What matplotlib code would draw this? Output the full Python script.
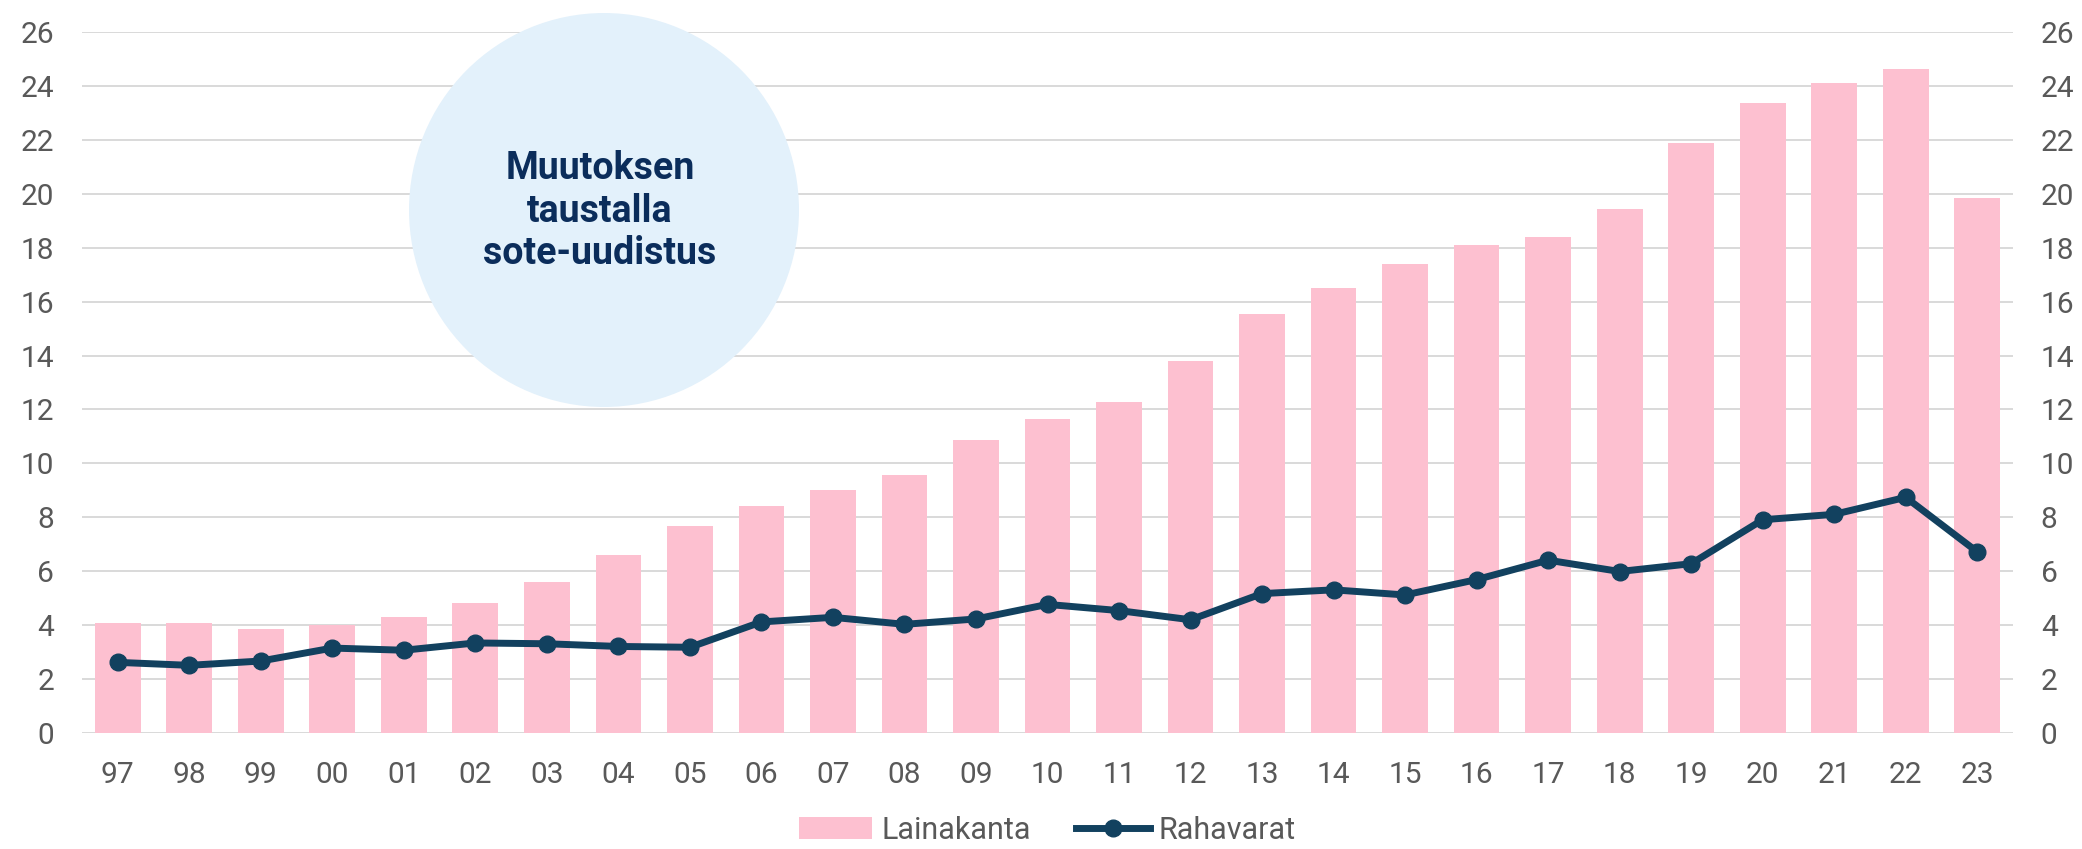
import matplotlib
matplotlib.use("Agg")
import matplotlib.pyplot as plt
from matplotlib.patches import Ellipse
import numpy as np

plt.rcParams['font.family'] = ['Roboto', 'DejaVu Sans']

years = ["97", "98", "99", "00", "01", "02", "03", "04", "05", "06", "07",
         "08", "09", "10", "11", "12", "13", "14", "15", "16", "17", "18",
         "19", "20", "21", "22", "23"]
lainakanta = [4.09, 4.08, 3.86, 4.02, 4.30, 4.83, 5.60, 6.61, 7.69, 8.41,
              9.01, 9.58, 10.88, 11.66, 12.29, 13.80, 15.54, 16.52, 17.38,
              18.09, 18.40, 19.42, 21.89, 23.35, 24.10, 24.64, 19.83]
rahavarat = [2.62, 2.51, 2.67, 3.15, 3.07, 3.34, 3.31, 3.21, 3.18, 4.12,
             4.29, 4.03, 4.23, 4.77, 4.54, 4.20, 5.17, 5.31, 5.12, 5.69,
             6.41, 5.99, 6.28, 7.91, 8.11, 8.74, 6.72]
yticks = list(range(0, 27, 2))

pink = "#FDC0D0"
navy = "#12415F"
grey_txt = "#595959"

fig = plt.figure(figsize=(20.82, 8.49), dpi=100)
ax = fig.add_axes([82 / 2082, 1 - 733 / 849, (2013 - 82) / 2082, (733 - 32) / 849])

x = np.arange(len(years))
bars = ax.bar(x, lainakanta, width=0.64, color=pink, zorder=2, label="Lainakanta")
line, = ax.plot(x, rahavarat, color=navy, lw=5, marker="o", markersize=12,
                zorder=3, label="Rahavarat")

ax.set_xlim(-0.5, len(years) - 0.5)
ax.set_ylim(0, 26)
ax.set_yticks(yticks)
ax.set_xticks(x)
ax.set_xticklabels(years)
ax.grid(axis="y", color="#D9D9D9", lw=1.4, zorder=0)
ax.set_axisbelow(True)
for s in ax.spines.values():
    s.set_visible(False)
ax.tick_params(axis="y", length=0, labelsize=21.5, labelcolor=grey_txt,
               labelright=True, pad=20)
ax.tick_params(axis="x", length=0, labelsize=21.5, labelcolor=grey_txt, pad=20)

# highlight bubble
circ = Ellipse((604 / 2082, 1 - 210 / 849), 2 * 195 / 2082, 2 * 197 / 849,
               transform=fig.transFigure, facecolor="#E3F1FB", edgecolor="none",
               zorder=1.5, clip_on=False)
ax.add_patch(circ)
fig.text(600 / 2082, 1 - 211 / 849, "Muutoksen\ntaustalla\nsote-uudistus",
         ha="center", va="center", fontsize=27, fontweight="bold",
         color="#0B2D5B", linespacing=1.2, zorder=5)

fig.legend(handles=[bars, line], loc="center", bbox_to_anchor=(0.503, 0.022),
           ncol=2, frameon=False, fontsize=22, labelcolor=grey_txt,
           handlelength=2.4, handletextpad=0.3, columnspacing=1.5)

fig.savefig("out.png", dpi=100, facecolor="white")
